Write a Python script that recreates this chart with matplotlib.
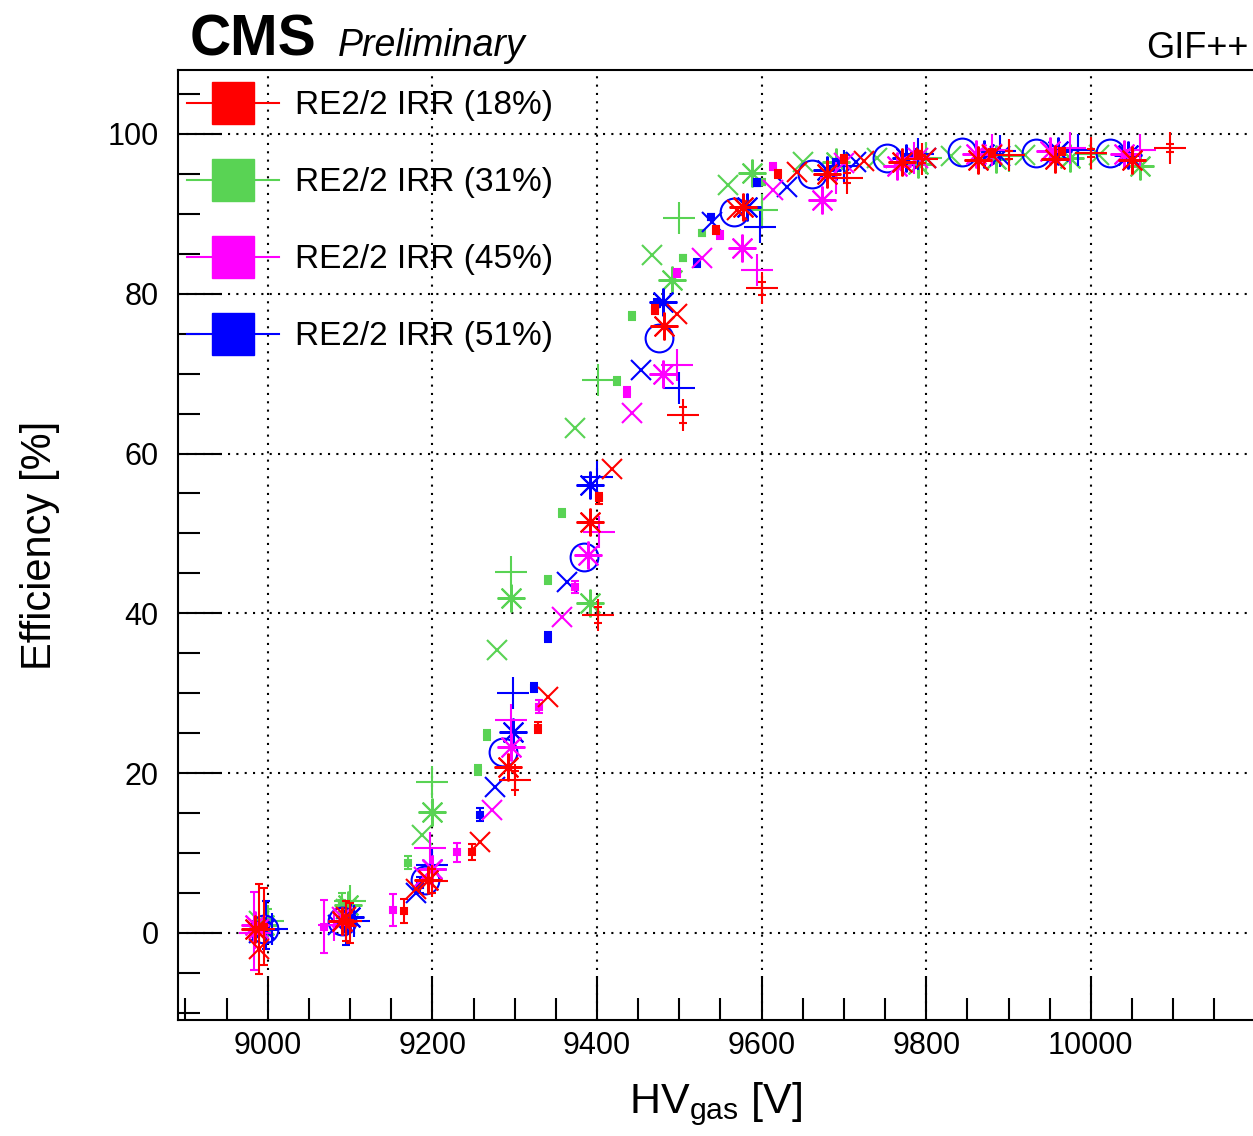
import matplotlib
matplotlib.use("Agg")
import matplotlib.pyplot as plt
from matplotlib.lines import Line2D
from matplotlib.ticker import MultipleLocator

plt.rcParams['font.family'] = ['Liberation Sans', 'DejaVu Sans']
plt.rcParams['mathtext.fontset'] = 'custom'
plt.rcParams['mathtext.rm'] = 'Liberation Sans'

# ---- RE2/2 IRR (18%) - red
red_plus_hv = [8990, 9095, 9200, 9300, 9401, 9505, 9600, 9704, 9795, 9900, 10000, 10096]
red_plus_eff = [0.5, 1.5, 6.5, 19.1, 39.8, 64.8, 80.7, 94.5, 96.8, 97.3, 97.6, 98.2]
red_plus_err = [5.6, 2.5, 1.5, 1.2, 1.0, 1.0, 0.8, 0.6, 0.5, 0.5, 0.5, 0.5]
red_star_hv = [8985, 9090, 9195, 9292, 9391, 9482, 9577, 9680, 9770, 9863, 9957, 10050]
red_star_eff = [0.5, 1.5, 6.6, 20.8, 51.4, 76.0, 90.8, 95.0, 96.5, 96.7, 96.9, 96.7]
red_x_hv = [8990, 9095, 9180, 9258, 9340, 9418, 9497, 9570, 9643, 9725, 9800, 9880]
red_x_eff = [-2.0, 2.0, 5.5, 11.4, 29.5, 58.0, 77.5, 90.5, 95.2, 96.6, 97.0, 97.4]
red_dot_hv = [8995, 9100, 9165, 9248, 9328, 9403, 9470, 9545, 9620, 9700, 9790, 9880, 9965]
red_dot_eff = [0.8, 1.2, 2.8, 10.1, 25.7, 54.4, 78.0, 88.0, 95.0, 96.8, 97.4, 97.6, 97.8]
red_dot_err = [4.8, 2.5, 1.5, 1.0, 0.7, 0.7, 0.6, 0.5, 0.5, 0.5, 0.5, 0.5, 0.5]

# ---- RE2/2 IRR (31%) - green
green_plus_hv = [9000, 9100, 9199, 9296, 9401, 9500, 9601, 9700, 9800, 9900, 10000]
green_plus_eff = [1.5, 4.0, 18.9, 45.2, 69.2, 89.5, 90.5, 96.0, 97.0, 97.2, 97.5]
green_star_hv = [8995, 9098, 9199, 9296, 9391, 9491, 9588, 9690, 9790, 9885, 9975, 10060]
green_star_eff = [1.0, 3.5, 15.1, 41.9, 41.3, 81.7, 95.1, 96.5, 96.2, 96.8, 97.0, 96.0]
green_x_hv = [8990, 9095, 9187, 9278, 9373, 9467, 9559, 9650, 9740, 9830, 9920, 10010]
green_x_eff = [1.5, 3.0, 12.3, 35.4, 63.2, 84.9, 93.6, 96.5, 97.0, 97.2, 97.3, 97.4]
green_dot_hv = [9000, 9090, 9170, 9255, 9267, 9340, 9357, 9424, 9442, 9504, 9527, 9600, 9690]
green_dot_eff = [1.5, 3.8, 8.8, 20.4, 24.8, 44.2, 52.6, 69.1, 77.2, 84.5, 87.6, 94.0, 96.2]
green_dot_err = [1.5, 1.2, 0.8, 0.6, 0.6, 0.5, 0.5, 0.5, 0.5, 0.4, 0.4, 0.4, 0.4]

# ---- RE2/2 IRR (45%) - magenta
magenta_star_hv = [8985, 9090, 9200, 9296, 9389, 9480, 9576, 9673, 9765, 9860, 9950, 10040]
magenta_star_eff = [1.0, 1.5, 8.0, 23.3, 47.3, 70.0, 85.7, 91.7, 96.0, 97.5, 97.8, 97.5]
magenta_x_hv = [8990, 9090, 9190, 9272, 9357, 9443, 9528, 9614, 9700, 9790, 9880]
magenta_x_eff = [0.5, 2.0, 7.0, 15.4, 39.5, 65.1, 84.5, 93.0, 96.3, 97.0, 97.5]
magenta_plus_hv = [8985, 9080, 9197, 9296, 9403, 9497, 9595, 9690, 9785, 9880, 9975, 10060]
magenta_plus_eff = [0.0, 1.0, 10.6, 26.7, 50.2, 71.1, 83.0, 94.5, 97.0, 98.0, 98.2, 98.0]
magenta_dot_hv = [8983, 9068, 9152, 9230, 9330, 9373, 9436, 9497, 9549, 9614, 9700, 9790]
magenta_dot_eff = [0.2, 0.8, 2.9, 10.1, 28.3, 43.3, 67.7, 82.6, 87.4, 95.9, 96.8, 97.5]
magenta_dot_err = [4.9, 3.3, 2.0, 1.2, 0.8, 0.7, 0.6, 0.5, 0.5, 0.4, 0.4, 0.4]

# ---- RE2/2 IRR (51%) - blue
blue_circle_hv = [8995, 9090, 9191, 9286, 9384, 9475, 9567, 9661, 9752, 9843, 9933, 10023]
blue_circle_eff = [0.5, 1.5, 6.6, 22.7, 47.1, 74.5, 90.2, 95.0, 97.0, 97.7, 97.6, 97.6]
blue_star_hv = [8995, 9100, 9200, 9298, 9391, 9480, 9582, 9680, 9775, 9870, 9960, 10045]
blue_star_eff = [0.5, 2.0, 8.0, 25.2, 56.1, 79.0, 90.9, 95.5, 97.0, 97.5, 97.8, 97.3]
blue_plus_hv = [9005, 9105, 9200, 9298, 9400, 9500, 9598, 9700, 9790, 9890, 9985]
blue_plus_eff = [0.5, 1.5, 8.5, 30.0, 57.1, 68.2, 88.4, 96.0, 97.5, 97.8, 98.0]
blue_x_hv = [8990, 9085, 9180, 9276, 9363, 9454, 9540, 9631, 9715, 9800, 9890]
blue_x_eff = [0.0, 1.0, 5.0, 18.3, 43.9, 70.5, 89.0, 93.4, 96.5, 97.0, 97.2]
blue_dot_hv = [8998, 9095, 9185, 9258, 9324, 9340, 9473, 9521, 9539, 9595, 9690, 9785]
blue_dot_eff = [1.0, 0.5, 6.0, 14.8, 30.7, 37.0, 78.8, 83.9, 89.6, 93.9, 96.5, 97.2]
blue_dot_err = [3.0, 2.0, 1.0, 0.8, 0.6, 0.6, 0.5, 0.5, 0.4, 0.4, 0.4, 0.4]

legend_labels = ["RE2/2 IRR (18%)", "RE2/2 IRR (31%)", "RE2/2 IRR (45%)", "RE2/2 IRR (51%)"]

RED = '#ff0000'
GREEN = '#59d354'
MAGENTA = '#ff00ff'
BLUE = '#0000ff'

STAR = (8, 2, 0)


def drawSeries(ax, hv, eff, color, marker, size, err=None, lw=1.5):
    ax.errorbar(hv, eff, yerr=err, fmt='none', ecolor=color, elinewidth=1.5, capsize=3, capthick=1.5)
    face = 'none' if marker == 'o' else color
    ax.plot(hv, eff, linestyle='none', marker=marker, markersize=size, color=color,
            markerfacecolor=face, markeredgewidth=lw)


fig = plt.figure(figsize=(12.53, 11.36), dpi=100)
ax = fig.add_axes([178 / 1253, 116 / 1136, 1075 / 1253, 950 / 1136])

# green first, red on top
drawSeries(ax, green_x_hv, green_x_eff, GREEN, 'x', 14)
drawSeries(ax, green_star_hv, green_star_eff, GREEN, STAR, 20)
drawSeries(ax, green_plus_hv, green_plus_eff, GREEN, '+', 23)
drawSeries(ax, green_dot_hv, green_dot_eff, GREEN, 's', 4, green_dot_err)

drawSeries(ax, blue_circle_hv, blue_circle_eff, BLUE, 'o', 20)
drawSeries(ax, blue_x_hv, blue_x_eff, BLUE, 'x', 14)
drawSeries(ax, blue_star_hv, blue_star_eff, BLUE, STAR, 20)
drawSeries(ax, blue_plus_hv, blue_plus_eff, BLUE, '+', 23)
drawSeries(ax, blue_dot_hv, blue_dot_eff, BLUE, 's', 4, blue_dot_err)

drawSeries(ax, magenta_x_hv, magenta_x_eff, MAGENTA, 'x', 14)
drawSeries(ax, magenta_star_hv, magenta_star_eff, MAGENTA, STAR, 20)
drawSeries(ax, magenta_plus_hv, magenta_plus_eff, MAGENTA, '+', 23)
drawSeries(ax, magenta_dot_hv, magenta_dot_eff, MAGENTA, 's', 4, magenta_dot_err)

drawSeries(ax, red_x_hv, red_x_eff, RED, 'x', 14)
drawSeries(ax, red_star_hv, red_star_eff, RED, STAR, 20)
drawSeries(ax, red_plus_hv, red_plus_eff, RED, '+', 23, red_plus_err)
drawSeries(ax, red_dot_hv, red_dot_eff, RED, 's', 4, red_dot_err)

ax.set_xlim(8891, 10197)
ax.set_ylim(-10.9, 108.0)
ax.xaxis.set_major_locator(MultipleLocator(200))
ax.xaxis.set_minor_locator(MultipleLocator(50))
ax.yaxis.set_major_locator(MultipleLocator(20))
ax.yaxis.set_minor_locator(MultipleLocator(5))
ax.tick_params(which='both', direction='in', top=False, right=False, width=1.5)
ax.tick_params(which='major', length=32)
ax.tick_params(which='minor', length=16)
ax.tick_params(axis='x', labelsize=22, pad=8)
ax.tick_params(axis='y', labelsize=22, pad=14)
ax.grid(True, which='major', color='black', linestyle=(0, (1, 3)), linewidth=1.5)
for spine in ax.spines.values():
    spine.set_linewidth(1.5)
ax.spines['right'].set_visible(False)

ax.set_xlabel("HV$_{\\mathrm{gas}}$ [V]", fontsize=31, labelpad=14)
ax.set_ylabel("Efficiency [%]", fontsize=30, labelpad=34)

handles = [Line2D([], [], color=c, marker='s', markersize=30, linewidth=1.5)
           for c in [RED, GREEN, MAGENTA, BLUE]]
leg = ax.legend(handles, legend_labels, loc='upper left', bbox_to_anchor=(-0.004, 0.9925),
                frameon=False, fontsize=24, handlelength=2.75, handletextpad=0.5,
                labelspacing=1.38, borderaxespad=0.15, borderpad=0.25)

fig.text(190 / 1253, 1 - 56 / 1136, "CMS", fontsize=41, fontweight='bold')
fig.text(338 / 1253, 1 - 56 / 1136, "Preliminary", fontsize=27, fontstyle='italic')
fig.text(1248 / 1253, 1 - 58 / 1136, "GIF++", fontsize=26, ha='right')

fig.savefig("out.png", dpi=100)
